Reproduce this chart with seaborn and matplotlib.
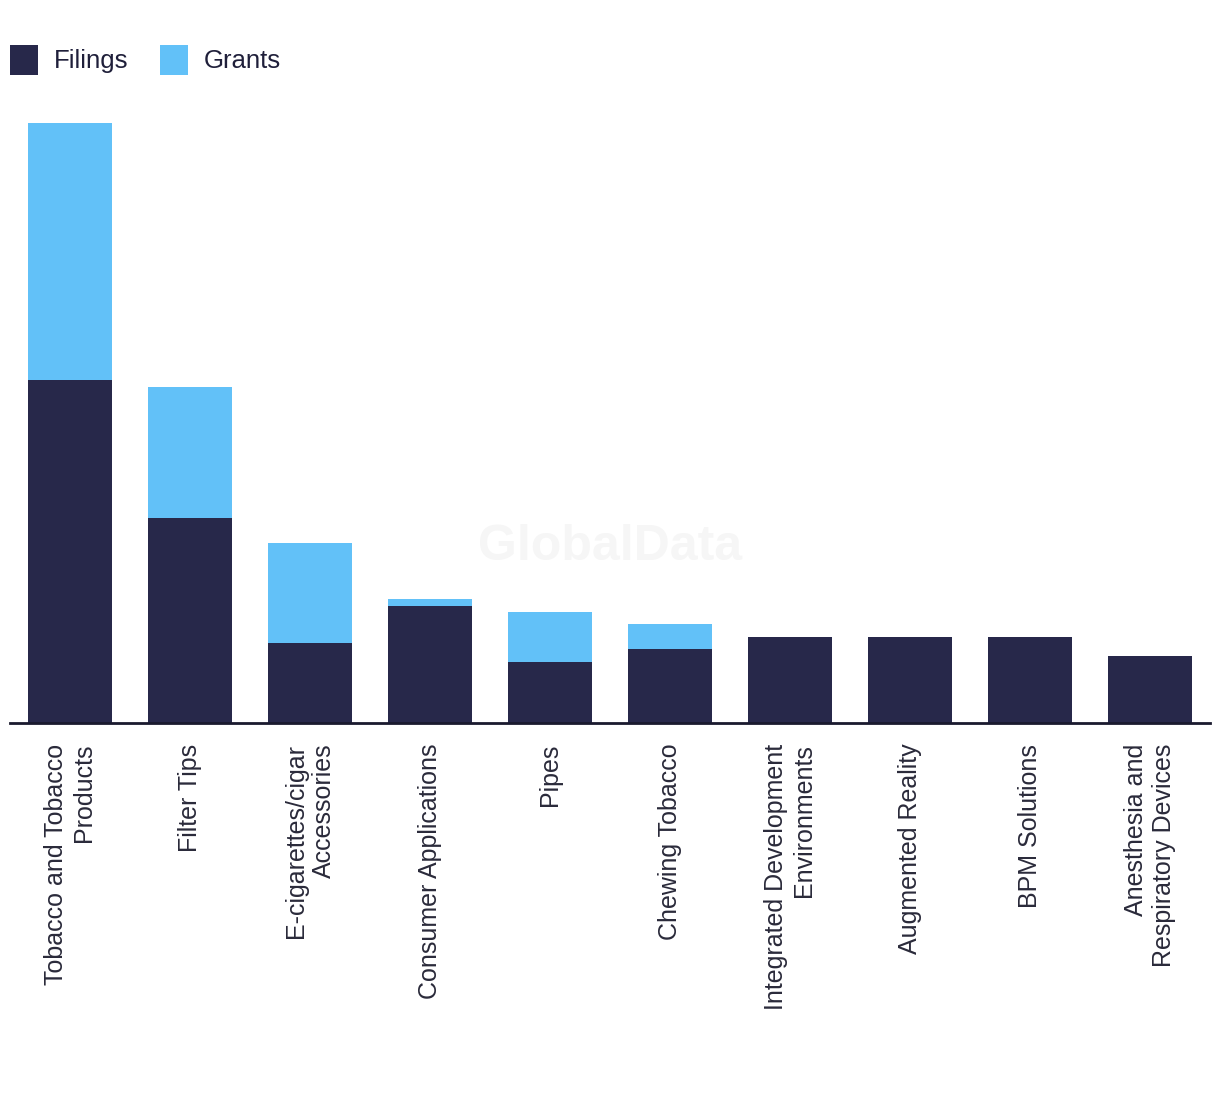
import matplotlib
matplotlib.use('Agg')
import matplotlib.pyplot as plt
import seaborn as sns
import pandas as pd

# data
categories = ['Tobacco and Tobacco\nProducts', 'Filter Tips', 'E-cigarettes/cigar\nAccessories',
              'Consumer Applications', 'Pipes', 'Chewing Tobacco',
              'Integrated Development\nEnvironments', 'Augmented Reality', 'BPM Solutions',
              'Anesthesia and\nRespiratory Devices']
filings = [56, 33.5, 13.1, 19.1, 10, 12.1, 14.1, 14.1, 14.1, 11]
grants = [42, 21.4, 16.4, 1.2, 8.1, 4.1, 0, 0, 0, 0]

df = pd.DataFrame({'category': categories, 'filings': filings, 'grants': grants})
df['total'] = df['filings'] + df['grants']

navy = '#27284a'
blue = '#62c1f8'

sns.set_style('white')
plt.rcParams['font.family'] = ['Liberation Sans', 'DejaVu Sans']

fig = plt.figure(figsize=(12.2, 10.94), dpi=100)
ax = fig.add_axes([10 / 1220, (1094 - 723) / 1094, 1200 / 1220, 624 / 1094])

# stacked look: totals in blue, filings over them in navy
sns.barplot(data=df, x='category', y='total', color=blue, saturation=1, width=0.7,
            linewidth=0, label='Grants', ax=ax)
sns.barplot(data=df, x='category', y='filings', color=navy, saturation=1, width=0.7,
            linewidth=0, label='Filings', ax=ax)

ax.set_xlim(-0.5, 9.5)
ax.set_ylim(0, 102)
ax.set_xlabel('')
ax.set_ylabel('')
ax.set_yticks([])
for s in ['top', 'right', 'left']:
    ax.spines[s].set_visible(False)
ax.spines['bottom'].set_color('#1a1a2e')
ax.spines['bottom'].set_linewidth(2)
ax.tick_params(axis='x', length=0, pad=15)
ax.set_xticks(range(len(categories)))
ax.set_xticklabels(categories, rotation=90, ha='center', va='top', ma='right',
                   fontsize=18, color='#2a2a3a')

if ax.get_legend() is not None:
    ax.get_legend().remove()
h, l = ax.get_legend_handles_labels()
order = [l.index('Filings'), l.index('Grants')]
fig.legend([h[i] for i in order], [l[i] for i in order], loc='upper left',
           bbox_to_anchor=(10 / 1220, 1 - 45 / 1094), ncol=2, frameon=False,
           fontsize=18.5, handlelength=1.1, handleheight=1.4, handletextpad=0.62,
           columnspacing=1.2, borderpad=0, borderaxespad=0, labelcolor='#1f1f3a')

fig.text(610 / 1220, 1 - 547 / 1094, 'GlobalData', fontsize=36, fontweight='bold',
         color='#f6f6f6', ha='center', va='center', zorder=0)

fig.savefig('out.png', dpi=100, facecolor='white')
